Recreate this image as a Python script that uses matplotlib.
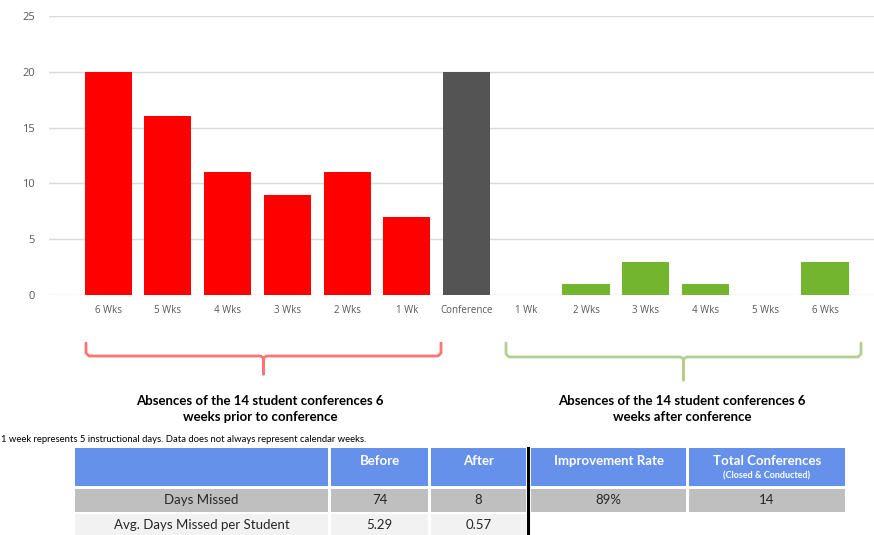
import numpy as np
import matplotlib
matplotlib.use("Agg")
from matplotlib import pyplot as plt
from matplotlib.patches import Rectangle

# chart data
categories = ['6 Wks', '5 Wks', '4 Wks', '3 Wks', '2 Wks', '1 Wk', 'Conference',
              '1 Wk', '2 Wks', '3 Wks', '4 Wks', '5 Wks', '6 Wks']
absences = [20, 16, 11, 9, 11, 7, 20, 0, 1, 3, 1, 0, 3]
groups = ['before'] * 6 + ['conf'] + ['after'] * 6

# table data
table_header = ['', 'Before', 'After', 'Improvement Rate', 'Total Conferences']
table_subheader = ['', '', '', '', '(Closed & Conducted)']
table_rows = [['Days Missed', '74', '8', '89%', '14'],
              ['Avg. Days Missed per Student', '5.29', '0.57', '', '']]

brace_titles = ['Absences of the 14 student conferences 6\nweeks prior to conference',
                'Absences of the 14 student conferences 6\nweeks after conference']
footnote = '1 week represents 5 instructional days. Data does not always represent calendar weeks.'

group_colors = {'before': '#FF0000', 'conf': '#545454', 'after': '#74B52F'}

W, H = 874, 535
fig = plt.figure(figsize=(W / 100, H / 100), dpi=100)

# --- bar chart ---
ax = fig.add_axes([49 / W, 1 - 295 / H, 1 - 49 / W, (295 - 16) / H])
x = np.arange(len(categories))
ax.bar(x, absences, width=0.79, color=[group_colors[g] for g in groups], zorder=2)
ax.set_xlim(-0.99, 12.82)
ax.set_ylim(0, 25)
ax.set_yticks(range(0, 26, 5))
ax.set_xticks(x)
ax.set_xticklabels(categories, fontname='Open Sans', fontsize=7, color='#595959')
for lbl in ax.get_yticklabels():
    lbl.set_fontname('Open Sans')
ax.tick_params(axis='y', length=0, pad=10, labelsize=8, labelcolor='#595959')
ax.tick_params(axis='x', length=0, pad=7)
ax.grid(axis='y', color='#D9D9D9', linewidth=1, zorder=0)
for s in ax.spines.values():
    s.set_visible(False)

# --- overlay in pixel coordinates for braces, texts and table ---
ov = fig.add_axes([0, 0, 1, 1])
ov.set_xlim(0, W)
ov.set_ylim(H, 0)
ov.axis('off')


def brace(x0, x1, ytop, ymid, ytip, color):
    xc = (x0 + x1) / 2
    r = 3
    xs = [x0, x0, x0 + r, xc - r, xc, xc, xc, xc + r, x1 - r, x1, x1]
    ys = [ytop, ymid - r, ymid, ymid, ymid + 2, ytip, ymid + 2, ymid, ymid, ymid - r, ytop]
    ov.plot(xs, ys, color=color, lw=2, alpha=0.55, solid_capstyle='round',
            solid_joinstyle='round')


brace(86, 441, 343, 356, 374, '#FF0000')
brace(506, 861, 343, 357, 380, '#74A832')

for title, xc in zip(brace_titles, [260, 682]):
    ov.text(xc, 409, title, ha='center', va='center', fontsize=9.5,
            fontname='Lato', fontweight='bold', color='black', linespacing=1.35)

ov.text(1, 440, footnote, ha='left', va='center', fontsize=6.8, fontname='Lato',
        color='black')

# table layout
col_edges = [(75, 328), (331, 428), (431, 526), (531, 686), (689, 845)]
row_edges = [(448, 486), (489, 512), (514, 538)]
row_fill = ['#6591EA', '#BFBFBF', '#F2F2F2']

for ci, (cx0, cx1) in enumerate(col_edges):
    xc = (cx0 + cx1) / 2
    # header
    ry0, ry1 = row_edges[0]
    ov.add_patch(Rectangle((cx0, ry0), cx1 - cx0, ry1 - ry0, color=row_fill[0], lw=0))
    ov.text(xc, 461, table_header[ci], ha='center', va='center', fontsize=9.5,
            fontname='Lato', fontweight='bold', color='white')
    if table_subheader[ci]:
        ov.text(xc, 476, table_subheader[ci], ha='center', va='center', fontsize=6.5,
                fontname='Lato', fontweight='bold', color='white')
    # body rows
    for ri, row in enumerate(table_rows):
        ry0, ry1 = row_edges[ri + 1]
        if ri == 1 and ci >= 3:
            continue
        ov.add_patch(Rectangle((cx0, ry0), cx1 - cx0, ry1 - ry0, color=row_fill[ri + 1], lw=0))
        ov.text(xc, (ry0 + ry1) / 2 - 1, row[ci], ha='center', va='center', fontsize=9.5,
                fontname='Lato', color='#262626')

ov.plot([528, 528], [448, 535], color='black', lw=2.2)

fig.savefig('out.png', dpi=100)
